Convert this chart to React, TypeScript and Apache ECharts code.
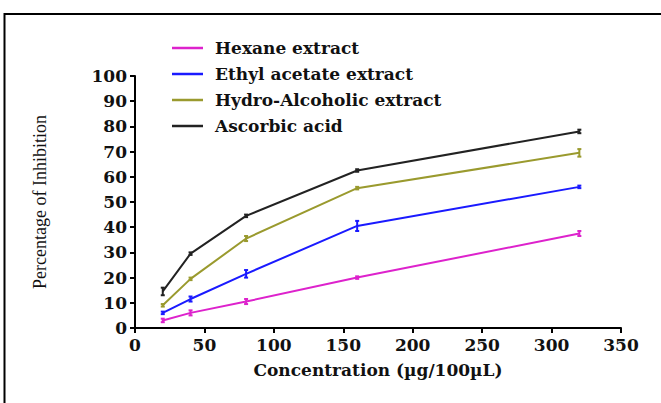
import React, { useEffect, useRef } from "react";
import * as echarts from "echarts";

const concentrations = [20, 40, 80, 160, 320];
const seriesNames = ["Hexane extract", "Ethyl acetate extract", "Hydro-Alcoholic extract", "Ascorbic acid"];
const hexane = [3, 6, 10.5, 20, 37.5];
const ethylAcetate = [6, 11.5, 21.5, 40.5, 56];
const hydroAlcoholic = [9, 19.5, 35.5, 55.5, 69.5];
const ascorbic = [14.5, 29.5, 44.5, 62.5, 78];
const hexaneErr = [0.7, 1, 1, 0.5, 1];
const ethylAcetateErr = [0.5, 1, 1.5, 2, 0.5];
const hydroAlcoholicErr = [0.5, 0.5, 1, 0.5, 1.5];
const ascorbicErr = [1.5, 0.5, 0.5, 0.5, 0.7];
const colors = ["#dd22cc", "#1a1aff", "#9a9a2e", "#222222"];

const FONT = "DejaVu Serif";

export default function App() {
  const ref = useRef<HTMLDivElement>(null);
  useEffect(() => {
    const chart = echarts.init(ref.current!, null, { renderer: "svg" });
    const values = [hexane, ethylAcetate, hydroAlcoholic, ascorbic];
    const errs = [hexaneErr, ethylAcetateErr, hydroAlcoholicErr, ascorbicErr];
    const lineSeries: any[] = values.map((vals, i) => ({
      type: "line",
      name: seriesNames[i],
      data: concentrations.map((c, j) => [c, vals[j]]),
      showSymbol: false,
      symbol: "none",
      lineStyle: { color: colors[i], width: 2 },
      itemStyle: { color: colors[i] },
      z: 3,
    }));
    const errSeries: any[] = values.map((vals, i) => ({
      type: "custom",
      name: seriesNames[i] + " err",
      data: concentrations.map((c, j) => [c, vals[j] - errs[i][j], vals[j] + errs[i][j]]),
      renderItem: (params: any, api: any) => {
        const lo = api.coord([api.value(0), api.value(1)]);
        const hi = api.coord([api.value(0), api.value(2)]);
        const w = 2;
        const style = { stroke: colors[i], lineWidth: 2 };
        return {
          type: "group",
          children: [
            { type: "line", shape: { x1: lo[0], y1: lo[1], x2: hi[0], y2: hi[1] }, style },
            { type: "line", shape: { x1: lo[0] - w, y1: lo[1], x2: lo[0] + w, y2: lo[1] }, style },
            { type: "line", shape: { x1: hi[0] - w, y1: hi[1], x2: hi[0] + w, y2: hi[1] }, style },
          ],
        };
      },
      z: 4,
      silent: true,
    }));
    chart.setOption({
      animation: false,
      backgroundColor: "#ffffff",
      grid: { left: 135, right: 40, top: 76, bottom: 75, containLabel: false },
      legend: {
        data: seriesNames,
        orient: "vertical",
        left: 167,
        top: 34,
        icon: "rect",
        itemWidth: 31,
        itemHeight: 2.5,
        itemGap: 8,
        textStyle: { fontFamily: FONT, fontWeight: "bold", fontSize: 17, color: "#111", padding: [0, 0, 0, 7], lineHeight: 18 },
      },
      xAxis: {
        type: "value",
        min: 0,
        max: 350,
        interval: 50,
        name: "Concentration (µg/100µL)",
        nameLocation: "middle",
        nameGap: 33,
        nameTextStyle: { fontFamily: FONT, fontWeight: "bold", fontSize: 17, color: "#111" },
        axisLine: { lineStyle: { color: "#000", width: 2 } },
        axisTick: { length: 5, lineStyle: { color: "#000", width: 2 } },
        axisLabel: { fontFamily: FONT, fontWeight: "bold", fontSize: 17, color: "#111", margin: 8 },
        splitLine: { show: false },
      },
      yAxis: {
        type: "value",
        min: 0,
        max: 100,
        interval: 10,
        name: "Percentage of Inhibition",
        nameLocation: "middle",
        nameGap: 86,
        nameTextStyle: { fontFamily: "Liberation Serif", fontSize: 18, color: "#111" },
        axisLine: { lineStyle: { color: "#000", width: 2 } },
        axisTick: { length: 5, lineStyle: { color: "#000", width: 2 } },
        axisLabel: { fontFamily: FONT, fontWeight: "bold", fontSize: 17, color: "#111", margin: 8 },
        splitLine: { show: false },
      },
      graphic: [
        {
          type: "polyline",
          shape: { points: [[4.5, 403], [4.5, 14], [661, 14]] },
          style: { stroke: "#000", lineWidth: 2, fill: null },
        },
      ],
      series: [...lineSeries, ...errSeries],
    });
    return () => chart.dispose();
  }, []);
  return <div ref={ref} style={{ width: 661, height: 403, position: "absolute", left: 0, top: 0 }} />;
}
